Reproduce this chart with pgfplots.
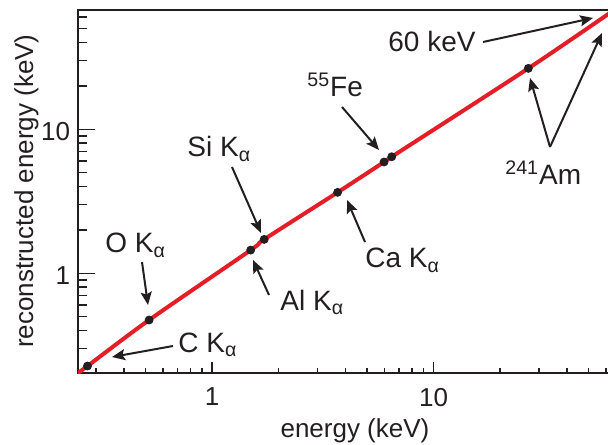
\documentclass[border=0pt]{standalone}
\usepackage{pgfplots}
\pgfplotsset{compat=1.18}
\usepackage{fontspec}
\setmainfont{Liberation Sans}
\usetikzlibrary{arrows.meta}
\definecolor{lred}{RGB}{228,30,38}
\definecolor{ink}{RGB}{35,31,32}
\begin{document}
\fontsize{13pt}{15pt}\selectfont
\begin{tikzpicture}
\begin{axis}[
  xmode=log, ymode=log,
  xmin=0.2483, xmax=69.5, ymin=0.2031, ymax=67.4,
  width=271pt, height=181.5pt, scale only axis,
  at={(0,0)}, anchor=south west,
  axis line style={line width=0.9pt, draw=ink},
  tick style={draw=none},
  xtick pos=left, ytick pos=left, tick align=inside,
  log ticks with fixed point,
  /pgf/number format/assume math mode=true,
  tick label style={font=\fontsize{13pt}{15pt}\selectfont, text=ink},
  xtick={1,10}, ytick={1,10},
  xticklabel style={anchor=north, inner sep=0pt, yshift=-7.25pt},
  yticklabel style={anchor=east, inner sep=0pt, xshift=-3.75pt, yshift=-1pt},
  xlabel={energy (keV)},
  xlabel style={at={(axis description cs:0.511,-0.179)}, anchor=base, inner sep=0pt, text=ink},
  ylabel={reconstructed energy (keV)},
  ylabel style={at={(axis description cs:-0.083,0.501)}, anchor=base, inner sep=0pt, text=ink},
]
% tick marks
\pgfplotsinvokeforeach{1,10}{
  \draw[ink, line width=0.8pt] (axis cs:#1,0.2031) -- ([yshift=5.3pt]axis cs:#1,0.2031);
  \draw[ink, line width=0.8pt] (axis cs:0.2483,#1) -- ([xshift=8.3pt]axis cs:0.2483,#1);
}
\pgfplotsinvokeforeach{0.3,0.4,0.5,0.6,0.7,0.8,0.9,2,3,4,5,6,7,8,9,20,30,40,50,60}{
  \draw[ink, line width=0.8pt] (axis cs:#1,0.2031) -- ([yshift=2.6pt]axis cs:#1,0.2031);
  \draw[ink, line width=0.8pt] (axis cs:0.2483,#1) -- ([xshift=4.3pt]axis cs:0.2483,#1);
}
\addplot[only marks, mark=*, mark size=2pt, mark options={fill=ink, draw=ink}] coordinates {
 (0.274,0.227) (0.520,0.474) (1.495,1.45) (1.72,1.72) (3.69,3.65) (5.98,5.93) (6.48,6.45) (26.8,26.5)
};
\addplot[lred, line width=2pt, smooth] coordinates {
 (0.2406,0.196) (0.274,0.227) (0.520,0.474) (1.495,1.45) (1.72,1.72) (3.69,3.65) (5.98,5.93) (6.48,6.45) (26.8,26.5) (64.0,65.9)
};
\end{axis}
\begin{scope}[x=0.5pt, y=-0.5pt, shift={(-39pt,186.5pt)}]
\tikzset{ann/.style={anchor=base west, inner sep=0pt, font=\fontsize{14pt}{16pt}\selectfont, text=ink},
 arr/.style={draw=ink, line width=1pt, -{Stealth[length=6.5pt,width=5.5pt,inset=1.2pt]}}}
\node[ann] at (388,52) {60 keV};
\node[ann] at (505,185) {\textsuperscript{241}Am};
\node[ann] at (307,97) {\textsuperscript{55}Fe};
\node[ann] at (187,157) {Si K\textsubscript{α}};
\node[ann] at (365,268) {Ca K\textsubscript{α}};
\node[ann] at (280,310) {Al K\textsubscript{α}};
\node[ann] at (105,253) {O K\textsubscript{α}};
\node[ann] at (178,352) {C K\textsubscript{α}};
\draw[arr] (483,42) -- (593,18);
\draw[arr] (550,147) -- (530,78);
\draw[arr] (550,147) -- (602,33);
\draw[arr] (342,107) -- (379,150);
\draw[arr] (232,167) -- (261,233);
\draw[arr] (365,242) -- (347,200);
\draw[arr] (269,295) -- (253,260);
\draw[arr] (142,262) -- (148,305);
\draw[arr] (173,346) -- (112,357);
\end{scope}
\pgfresetboundingbox
\path (-39pt,-35.5pt) rectangle (265pt,186.5pt);
\end{tikzpicture}
\end{document}
